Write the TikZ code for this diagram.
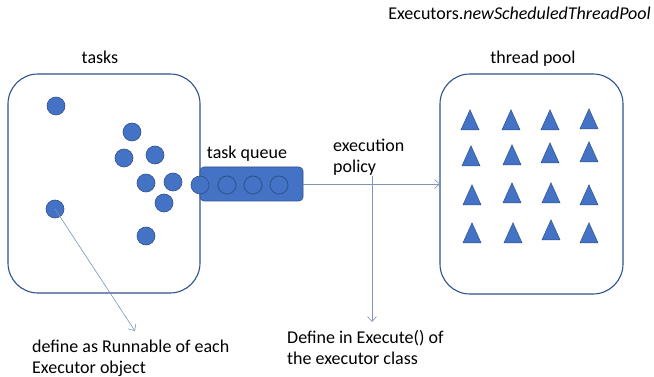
\documentclass[tikz,border=0pt]{standalone}
\usepackage{fontspec}
\setmainfont{Carlito}
\usetikzlibrary{arrows.meta,shapes.geometric}
\definecolor{fillblue}{HTML}{4472C4}
\definecolor{edgeblue}{HTML}{2F528F}
\definecolor{linkblue}{HTML}{7F93B8}
\tikzset{
  x=1pt,y=-1pt,
  container/.style={draw=edgeblue,line width=1.1pt,rounded corners=30pt},
  task/.style={circle,fill=fillblue,draw=edgeblue,line width=0.6pt,minimum size=18pt,inner sep=0pt},
  slot/.style={circle,draw=edgeblue,line width=0.8pt,minimum size=18pt,inner sep=0pt},
  worker/.style={isosceles triangle,shape border rotate=90,isosceles triangle stretches,
    fill=fillblue,draw=edgeblue,line width=0.5pt,minimum width=18pt,minimum height=20pt,inner sep=0pt},
  link/.style={draw=linkblue,line width=0.6pt,-{Straight Barb[length=5pt,width=9pt]}},
  label/.style={font=\fontsize{18}{21}\selectfont,inner sep=0pt,anchor=base},
  note/.style={font=\fontsize{18}{21}\selectfont,inner sep=0pt,align=left,anchor=north west}
}
\begin{document}
\begin{tikzpicture}
\useasboundingbox (0,0) rectangle (654,377);
\fill[white] (0,0) rectangle (654,377);

% title
\node[label,anchor=base east] (title) at (651,20) {Executors.\textit{newScheduledThreadPool}};

% task set
\node[label] (taskslbl) at (100,64) {tasks};
\draw[container] (8,74) rectangle (200,293);
\node[task] (t1) at (56,106) {};
\node[task] (t2) at (132,132) {};
\node[task] (t3) at (124,158) {};
\node[task] (t4) at (155,155) {};
\node[task] (t5) at (146,183) {};
\node[task] (t6) at (173,182) {};
\node[task] (t7) at (164,203) {};
\node[task] (t8) at (55,209) {};
\node[task] (t9) at (146,236) {};

% task queue
\node[label] (queuelbl) at (247,159) {task queue};
\node[draw=edgeblue,fill=fillblue,line width=0.6pt,rounded corners=4pt,
      minimum width=103pt,minimum height=34pt,inner sep=0pt] (queue) at (251.5,184) {};
\node[task] (q0) at (200,185) {};
\node[slot] (q1) at (227,185) {};
\node[slot] (q2) at (253,185) {};
\node[slot] (q3) at (279,185) {};

% thread pool
\node[label] (poollbl) at (533,64) {thread pool};
\draw[container] (440,74) rectangle (623,294);
\node[worker] (w11) at (470,124) {};
\node[worker] (w12) at (511,124) {};
\node[worker] (w13) at (550,124) {};
\node[worker] (w14) at (589,123) {};
\node[worker] (w21) at (471,160) {};
\node[worker] (w22) at (512,159) {};
\node[worker] (w23) at (550,157) {};
\node[worker] (w24) at (589,156) {};
\node[worker] (w31) at (472,199) {};
\node[worker] (w32) at (512,197) {};
\node[worker] (w33) at (551,197) {};
\node[worker] (w34) at (589,199) {};
\node[worker] (w41) at (472,237) {};
\node[worker] (w42) at (513,237) {};
\node[worker] (w43) at (551,234) {};
\node[worker] (w44) at (589,237) {};
\coordinate (poolin) at (440,184);

% execution policy
\node[note] (policy) at (333,139) {execution\\policy};
\coordinate (policytop) at (372,176);
\node[note] (execnote) at (287,330) {Define in Execute() of\\the executor class};
\coordinate (execend) at (372,322);

% runnable note
\node[note] (runnote) at (32,340) {define as Runnable of each\\Executor object};
\coordinate (runend) at (135,331);

% connectors
\draw[link] (queue.east) -- (poolin);
\draw[link] (policytop) -- (execend);
\draw[link] (t8.center) -- (runend);
\end{tikzpicture}
\end{document}
